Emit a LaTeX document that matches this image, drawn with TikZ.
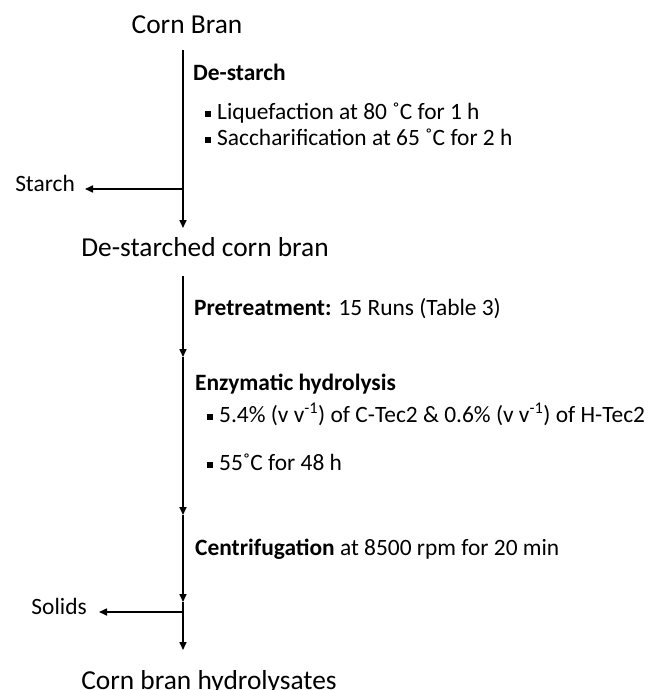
\documentclass[tikz,border=0pt]{standalone}
\usepackage{fontspec}
\setmainfont{Carlito}
\usetikzlibrary{arrows.meta}
\newcommand\mybul{\raisebox{2.5bp}{\rule{6bp}{6bp}}\hspace{6bp}}
\begin{document}
\begin{tikzpicture}[x=1bp,y=-1bp,
  title/.style={font=\fontsize{27.5}{32}\selectfont, inner sep=0},
  body/.style={font=\fontsize{23.5}{27}\selectfont, anchor=mid west, inner sep=0},
  flow/.style={line width=1.6bp, -{Triangle[width=7bp,length=8bp]}}]
\useasboundingbox (0,0) rectangle (668,690);
% first stage
\node[title] (cb) at (187,25) {Corn Bran};
\coordinate (t1) at (183,50);
\coordinate (b1) at (183,189);
\coordinate (e1) at (183,228);
\node[body] (ds) at (193,78) {\textbf{De-starch}};
\node[body] (l1) at (205,117) {\mybul Liquefaction at 80 ˚C for 1 h};
\node[body] (l2) at (205,143) {\mybul Saccharification at 65 ˚C for 2 h};
\node[body, anchor=mid east] (st) at (75,189) {Starch};
\draw[flow] (t1) -- (e1);
\draw[flow, shorten >=10bp] (b1) -- (b1 -| st.east);
\node[title] (dcb) at (205,247) {De-starched corn bran};
% second stage
\coordinate (t2) at (183,276);
\coordinate (m1) at (183,357);
\coordinate (m2) at (183,515);
\coordinate (m3) at (183,602);
\coordinate (b2) at (183,612);
\coordinate (e2) at (183,650);
\node[body] (pt) at (194,313) {\textbf{Pretreatment:} 15 Runs (Table 3)};
\node[body] (eh) at (195,388) {\textbf{Enzymatic hydrolysis}};
\node[body] (e1l) at (207,420) {\mybul 5.4\% (v v\textsuperscript{-1}) of C-Tec2 \& 0.6\% (v v\textsuperscript{-1}) of H-Tec2};
\node[body] (e2l) at (207,468) {\mybul 55˚C for 48 h};
\node[body] (cf) at (195,553) {\textbf{Centrifugation} at 8500 rpm for 20 min};
\node[body, anchor=mid east] (so) at (87,612) {Solids};
\draw[flow] (t2) -- (m1);
\draw[flow] (m1) -- (m2);
\draw[flow] (m2) -- (m3);
\draw[line width=1.6bp] (m3) -- (b2);
\draw[flow] (b2) -- (e2);
\draw[flow, shorten >=12bp] (b2) -- (b2 -| so.east);
\node[title, anchor=base] (cbh) at (209,689) {Corn bran hydrolysates};
\end{tikzpicture}
\end{document}
